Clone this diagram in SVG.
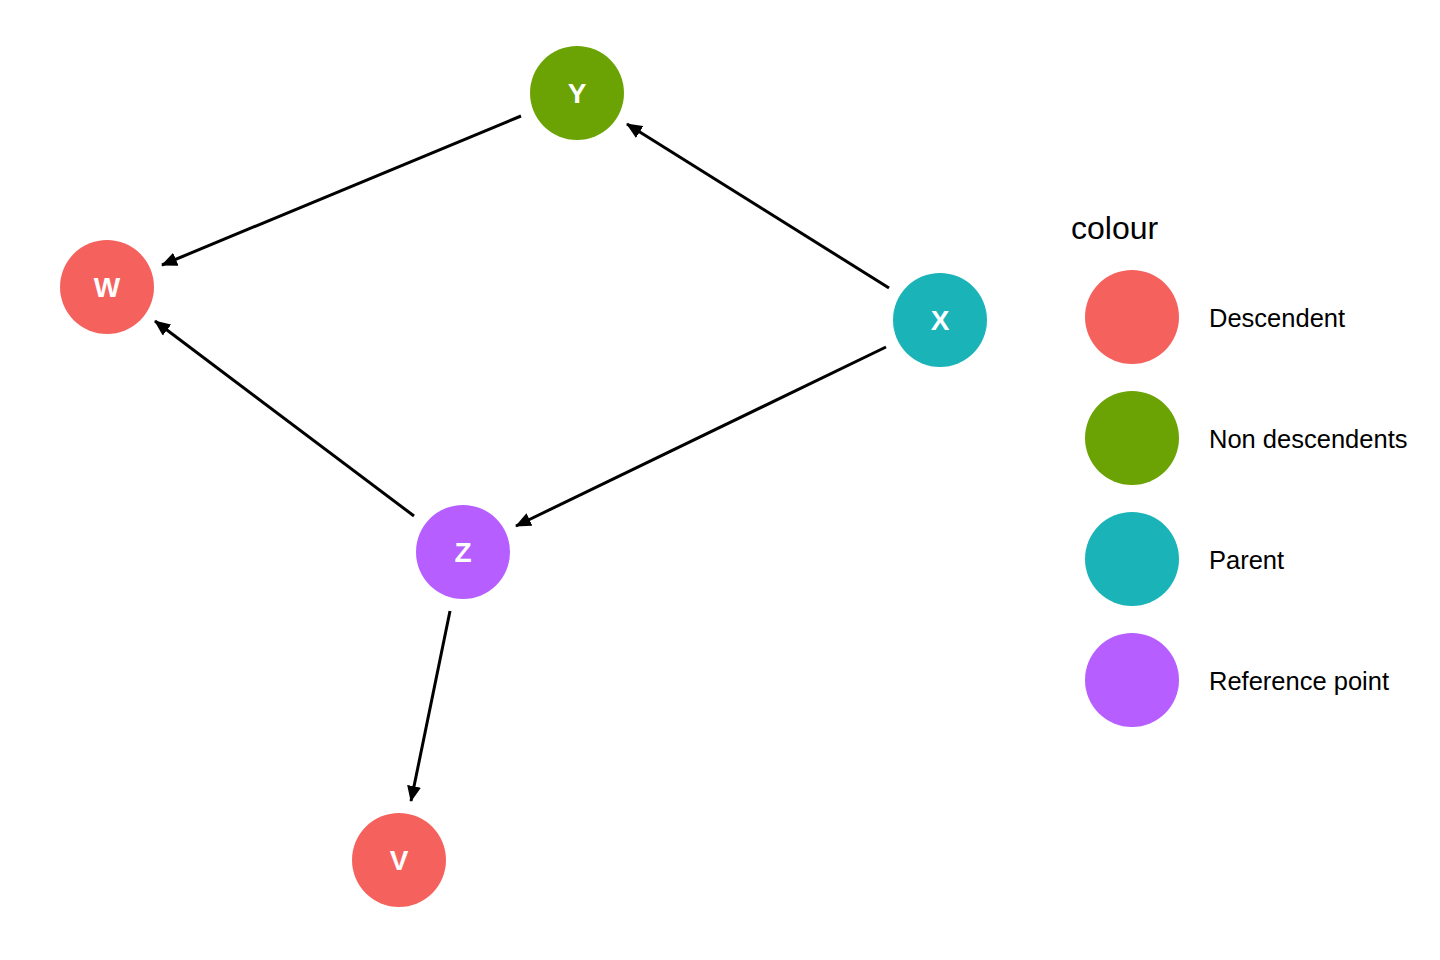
<svg xmlns="http://www.w3.org/2000/svg" width="1440" height="960" viewBox="0 0 1440 960">
  <style>
    .lbl { font-family: "Liberation Sans", Arial, sans-serif; font-weight: bold; font-size: 28px; fill: #ffffff; text-anchor: middle; }
    .edge { stroke: #000000; stroke-width: 3; fill: none; marker-end: url(#head); }
    .legtitle { font-family: "Liberation Sans", Arial, sans-serif; font-size: 32px; fill: #000000; }
    .legtext { font-family: "Liberation Sans", Arial, sans-serif; font-size: 25.5px; fill: #000000; }
    .desc { fill: #F5625E; }
    .nondesc { fill: #6BA304; }
    .parent { fill: #19B3B8; }
    .ref { fill: #B65EFF; }
  </style>
  <defs>
    <marker id="head" markerUnits="userSpaceOnUse" viewBox="0 0 16 14" refX="15" refY="7" markerWidth="16" markerHeight="14" orient="auto">
      <path d="M0,0 L16,7 L0,14 z" fill="#000000"/>
    </marker>
  </defs>
  <rect width="1440" height="960" fill="#ffffff"/>

  <g id="connectors">
    <line class="edge" x1="521" y1="116" x2="162" y2="265"/>
    <line class="edge" x1="889" y1="288" x2="627" y2="124"/>
    <line class="edge" x1="886" y1="347" x2="516" y2="526"/>
    <line class="edge" x1="414" y1="516" x2="155" y2="321"/>
    <line class="edge" x1="450" y1="611" x2="411" y2="801"/>
  </g>

  <g id="node-Y">
    <circle class="nondesc" cx="577" cy="93" r="47"/>
    <text class="lbl" x="577" y="103">Y</text>
  </g>
  <g id="node-W">
    <circle class="desc" cx="107" cy="287" r="47"/>
    <text class="lbl" x="107" y="297">W</text>
  </g>
  <g id="node-X">
    <circle class="parent" cx="940" cy="320" r="47"/>
    <text class="lbl" x="940" y="330">X</text>
  </g>
  <g id="node-Z">
    <circle class="ref" cx="463" cy="552" r="47"/>
    <text class="lbl" x="463" y="562">Z</text>
  </g>
  <g id="node-V">
    <circle class="desc" cx="399" cy="860" r="47"/>
    <text class="lbl" x="399" y="870">V</text>
  </g>

  <g id="legend">
    <text class="legtitle" x="1071" y="239">colour</text>
    <circle class="desc" cx="1132" cy="317" r="47"/>
    <text class="legtext" x="1209" y="327">Descendent</text>
    <circle class="nondesc" cx="1132" cy="438" r="47"/>
    <text class="legtext" x="1209" y="448">Non descendents</text>
    <circle class="parent" cx="1132" cy="559" r="47"/>
    <text class="legtext" x="1209" y="569">Parent</text>
    <circle class="ref" cx="1132" cy="680" r="47"/>
    <text class="legtext" x="1209" y="690">Reference point</text>
  </g>
</svg>
